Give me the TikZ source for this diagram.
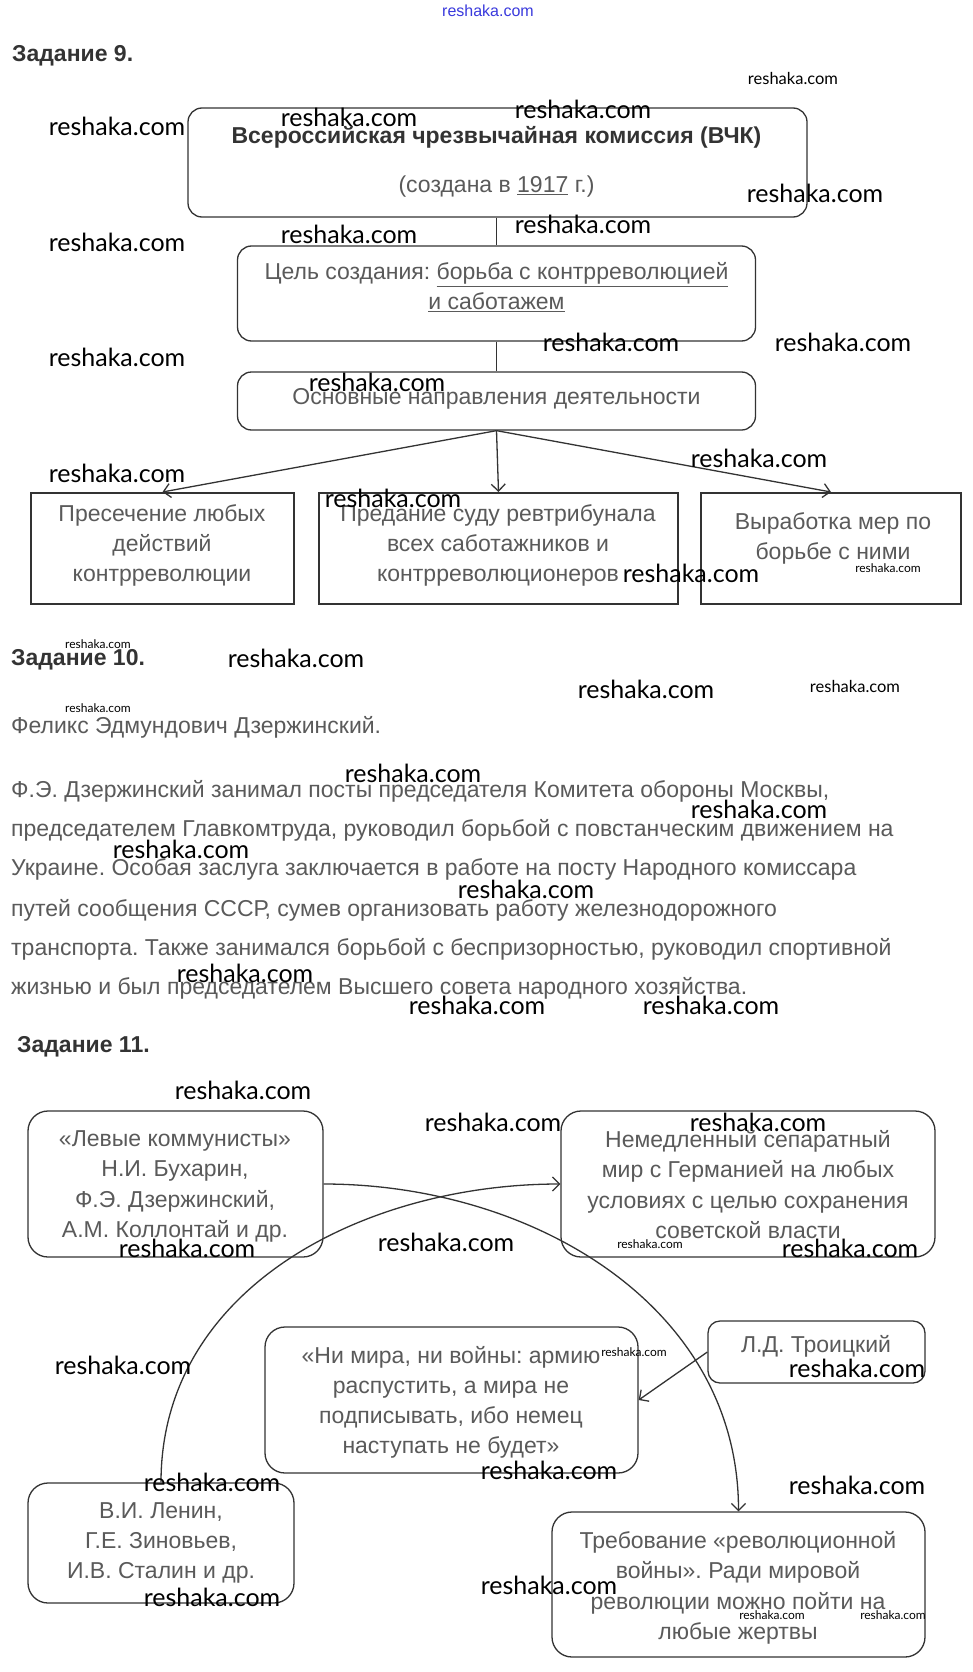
\documentclass[tikz,border=0pt]{standalone}
\usepackage{fontspec}
\setmainfont{Liberation Sans}
\newfontfamily\wmfont{Lato}
\usetikzlibrary{arrows.meta}
\definecolor{txt}{HTML}{5A5A5A}
\definecolor{dark}{HTML}{333333}
\definecolor{wmblue}{HTML}{3A3ADD}
\frenchspacing
\tikzset{
  rbox/.style={draw=dark, line width=1.3pt, rounded corners=14pt, inner sep=0pt},
  rboxb/.style={draw=dark, line width=1.3pt, rounded corners=20pt, inner sep=0pt},
  sbox/.style={draw=dark, line width=2pt, inner sep=0pt},
  boxtxt/.style={text=txt, font=\fontsize{23}{26}\selectfont, inner sep=0pt, anchor=mid},
  bodytxt/.style={text=txt, font=\fontsize{23}{26}\selectfont, inner sep=0pt, anchor=mid west},
  headtxt/.style={text=dark, font=\bfseries\fontsize{23}{26}\selectfont, inner sep=0pt, anchor=mid west},
  conn/.style={draw=dark, line width=1.3pt},
  arr/.style={draw=dark, line width=1.3pt, -{Straight Barb[length=7pt,width=14pt]}},
  wmk/.style={text=black, inner sep=0pt, anchor=center},
}
\begin{document}
\begin{tikzpicture}[x=1pt,y=1pt]
\useasboundingbox (0,0) rectangle (973,-1672);
\fill[white] (0,0) rectangle (973,-1672);

% ---------------- Задание 9 ----------------
\node[headtxt] (h9) at (12,-59) {Задание 9.};

\node[rbox, minimum width=619pt, minimum height=109pt] (b1) at (497.5,-162.5) {};
\node[boxtxt, text=dark, font=\bfseries\fontsize{23}{26}\selectfont] (b1t1) at (496.5,-141) {Всероссийская чрезвычайная комиссия (ВЧК)};
\node[boxtxt] (b1t2) at (496.5,-190) {(создана в \underline{1917} г.)};

\node[rbox, minimum width=518pt, minimum height=95pt] (b2) at (496.5,-293.5) {};
\node[boxtxt] (b2t1) at (496.5,-277) {Цель создания: \underline{борьба с контрреволюцией}};
\node[boxtxt] (b2t2) at (496.5,-307) {\underline{и саботажем}};

\node[rbox, minimum width=518pt, minimum height=58pt] (b3) at (496.5,-401) {};
\node[boxtxt] (b3t) at (496.5,-402) {Основные направления деятельности};

\draw[conn] (b2.north |- b1.south) -- (b2.north);
\draw[conn] (b2.south) -- (b3.north);

\node[sbox, minimum width=263pt, minimum height=111pt] (c1) at (162.5,-548.5) {};
\node[sbox, minimum width=359pt, minimum height=111pt] (c2) at (498.5,-548.5) {};
\node[sbox, minimum width=260pt, minimum height=111pt] (c3) at (831,-548.5) {};

\draw[arr] (b3.south) -- (c1.north);
\draw[arr] (b3.south) -- (c2.north);
\draw[arr] (b3.south) -- (c3.north);

\node[boxtxt] (c1t1) at (162,-519) {Пресечение любых};
\node[boxtxt] (c1t2) at (162,-549) {действий};
\node[boxtxt] (c1t3) at (162,-579) {контрреволюции};
\node[boxtxt] (c2t1) at (498,-519) {Предание суду ревтрибунала};
\node[boxtxt] (c2t2) at (498,-549) {всех саботажников и};
\node[boxtxt] (c2t3) at (498,-579) {контрреволюционеров};
\node[boxtxt] (c3t1) at (833,-527) {Выработка мер по};
\node[boxtxt] (c3t2) at (833,-557) {борьбе с ними};

% ---------------- Задание 10 ----------------
\node[headtxt] (h10) at (11,-663) {Задание 10.};
\node[bodytxt] (p0) at (11,-731) {Феликс Эдмундович Дзержинский.};
\node[bodytxt] (p1) at (11,-795) {Ф.Э. Дзержинский занимал посты председателя Комитета обороны Москвы,};
\node[bodytxt] (p2) at (11,-834) {председателем Главкомтруда, руководил борьбой с повстанческим движением на};
\node[bodytxt] (p3) at (11,-873) {Украине. Особая заслуга заключается в работе на посту Народного комиссара};
\node[bodytxt] (p4) at (11,-914) {путей сообщения СССР, сумев организовать работу железнодорожного};
\node[bodytxt] (p5) at (11,-953) {транспорта. Также занимался борьбой с беспризорностью, руководил спортивной};
\node[bodytxt] (p6) at (11,-992) {жизнью и был председателем Высшего совета народного хозяйства.};

% ---------------- Задание 11 ----------------
\node[headtxt] (h11) at (17,-1050) {Задание 11.};

\node[rboxb, minimum width=295pt, minimum height=146pt] (lk) at (175.5,-1184) {};
\node[rboxb, minimum width=374pt, minimum height=146pt] (pc) at (748,-1184) {};
\node[rboxb, minimum width=373pt, minimum height=146pt] (q) at (451.5,-1400) {};
\node[rbox, rounded corners=12pt, minimum width=217pt, minimum height=62pt] (tr) at (816.5,-1352) {};
\node[rboxb, minimum width=266pt, minimum height=120pt] (ln) at (161,-1543) {};
\node[rboxb, minimum width=373pt, minimum height=145pt] (rw) at (738.5,-1584.5) {};

\node[boxtxt] (lkt1) at (175,-1144) {«Левые коммунисты»};
\node[boxtxt] (lkt2) at (175,-1174) {Н.И. Бухарин,};
\node[boxtxt] (lkt3) at (175,-1205) {Ф.Э. Дзержинский,};
\node[boxtxt] (lkt4) at (175,-1235) {А.М. Коллонтай и др.};

\node[boxtxt] (pct1) at (748,-1145) {Немедленный сепаратный};
\node[boxtxt] (pct2) at (748,-1175) {мир с Германией на любых};
\node[boxtxt] (pct3) at (748,-1206) {условиях с целью сохранения};
\node[boxtxt] (pct4) at (748,-1236) {советской власти};

\node[boxtxt] (qt1) at (451,-1361) {«Ни мира, ни войны: армию};
\node[boxtxt] (qt2) at (451,-1391) {распустить, а мира не};
\node[boxtxt] (qt3) at (451,-1421) {подписывать, ибо немец};
\node[boxtxt] (qt4) at (451,-1451) {наступать не будет»};

\node[boxtxt] (trt) at (816,-1350) {Л.Д. Троицкий};

\node[boxtxt] (lnt1) at (161,-1516) {В.И. Ленин,};
\node[boxtxt] (lnt2) at (161,-1546) {Г.Е. Зиновьев,};
\node[boxtxt] (lnt3) at (161,-1576) {И.В. Сталин и др.};

\node[boxtxt] (rwt1) at (738,-1546) {Требование «революционной};
\node[boxtxt] (rwt2) at (738,-1576) {войны». Ради мировой};
\node[boxtxt] (rwt3) at (738,-1607) {революции можно пойти на};
\node[boxtxt] (rwt4) at (738,-1637) {любые жертвы};

\draw[arr] (lk.east) to[out=0,in=90] (rw.north);
\draw[arr] (ln.north) to[out=90,in=180] (pc.west);
\draw[arr] (tr.west) -- (q.east);

% ---------------- watermarks ----------------
\node[wmk, text=wmblue, font=\fontsize{16}{16}\selectfont] (wmtop) at (488,-11) {reshaka.com};
\foreach \x/\y/\s [count=\i] in {
  117/126/25, 349/117/25, 583/109/25, 793/78/16.5, 815/193/25,
  117/242/25, 349/234/25, 583/224/25,
  611/342/25, 843/342/25, 117/357/25, 377/382/25,
  117/473/25, 759/458/25, 393/498/25, 691/573/25, 888/568/12,
  98/644/12, 296/658/25, 646/689/25, 855/686/16.5, 98/708/12,
  413/773/25, 759/809/25, 181/849/25, 526/889/25, 245/973/25, 477/1005/25, 711/1005/25,
  243/1090/25, 493/1122/25, 758/1122/25, 187/1248/25, 446/1242/25, 850/1248/25, 650/1244/12,
  123/1365/25, 857/1368/25, 634/1352/12, 212/1482/25, 549/1470/25, 857/1485/25,
  212/1597/25, 549/1585/25, 772/1615/12, 893/1615/12}
  \node[wmk, font=\wmfont\fontsize{\s}{\s}\selectfont] (wm\i) at (\x,-\y) {reshaka.com};
\end{tikzpicture}
\end{document}
